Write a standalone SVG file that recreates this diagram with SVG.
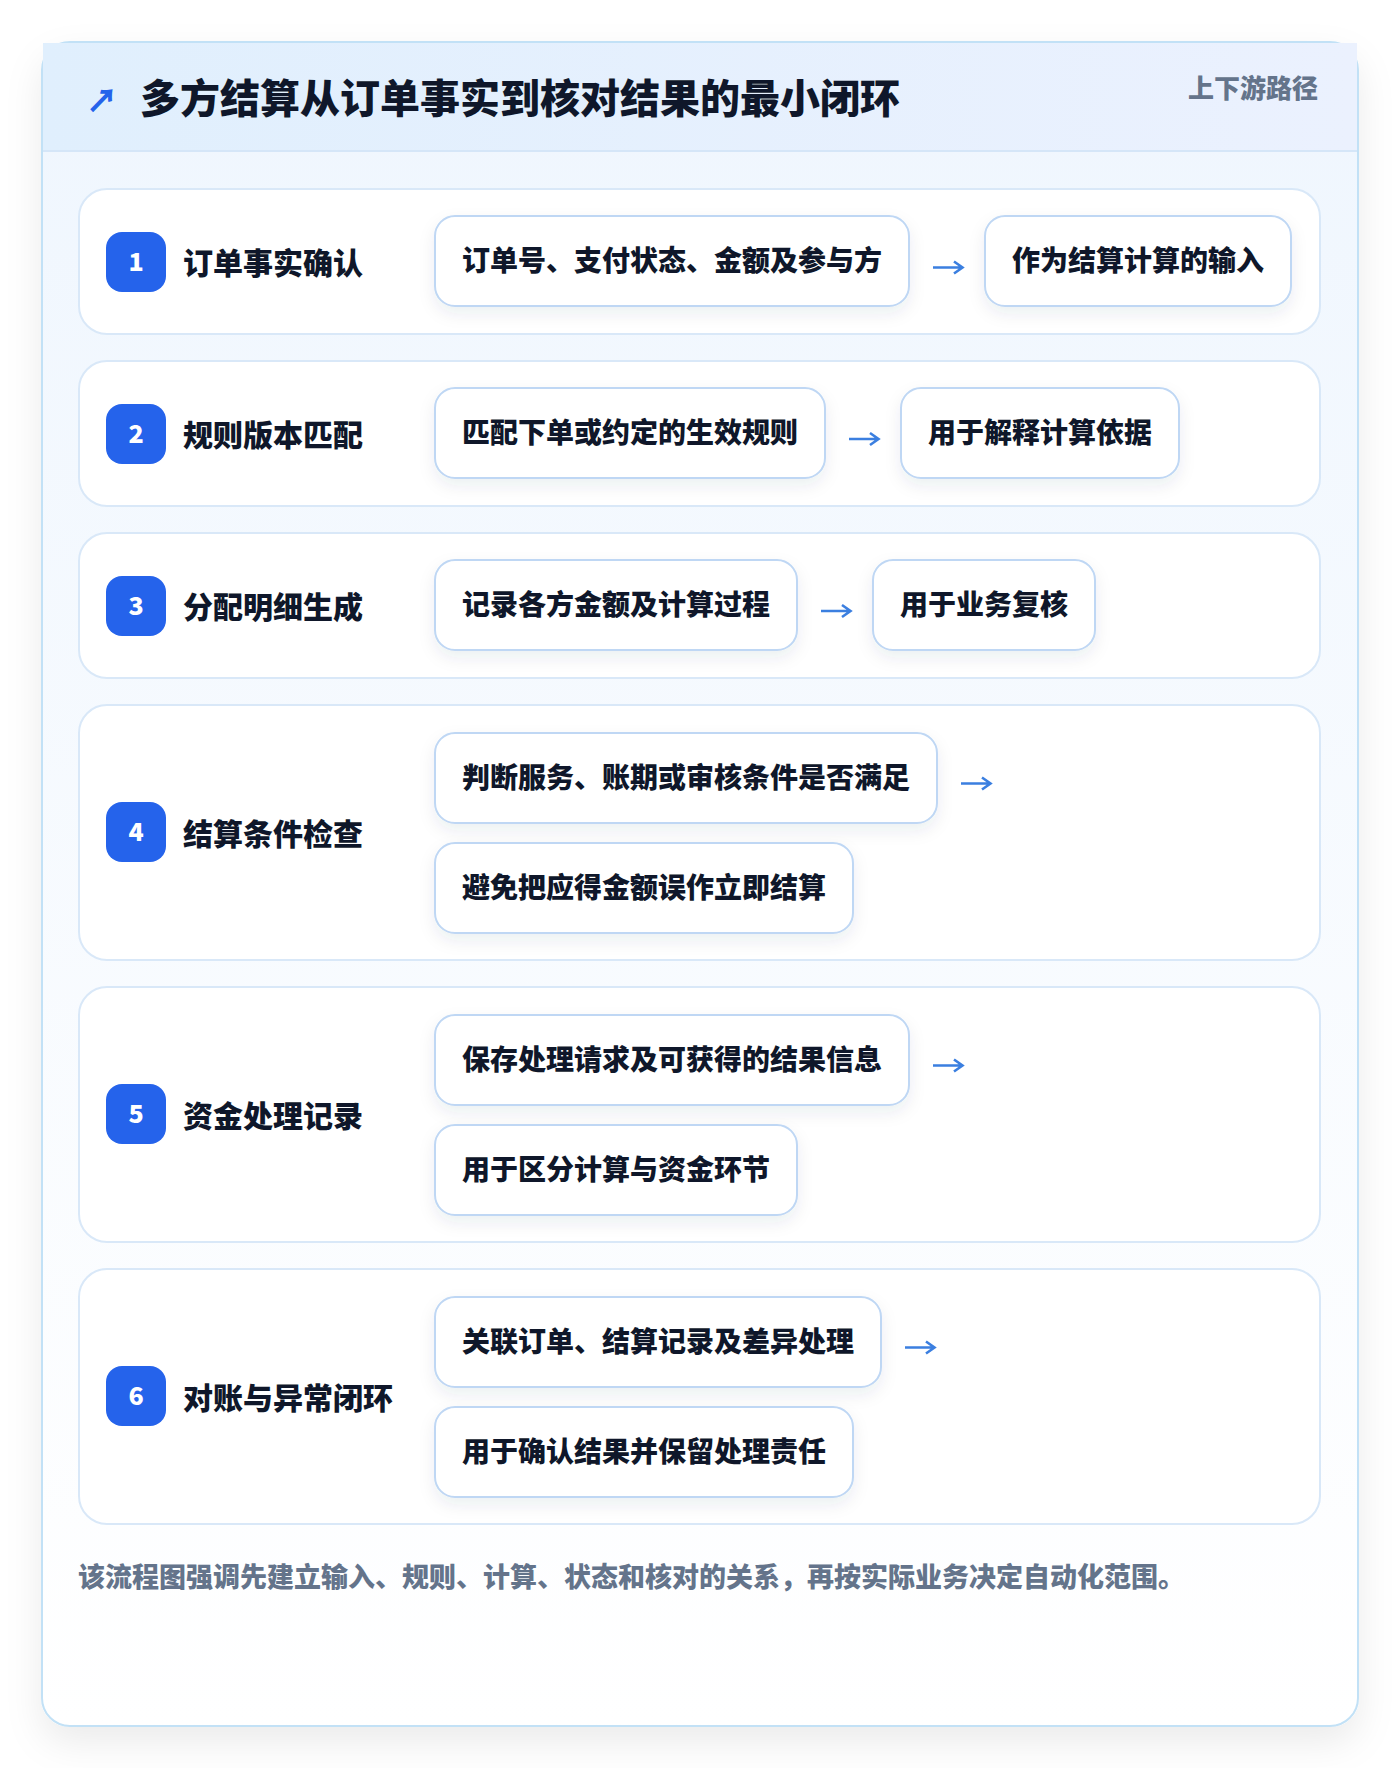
<svg xmlns="http://www.w3.org/2000/svg" width="1400" height="1768" viewBox="0 0 1400 1768">
<defs>
<linearGradient id="cardBg" x1="0" y1="0" x2="0" y2="1">
<stop offset="0" stop-color="#eff6fe"/>
<stop offset="1" stop-color="#ffffff"/>
</linearGradient>
<linearGradient id="headBg" x1="0" y1="0" x2="1" y2="0">
<stop offset="0" stop-color="#e0effd"/>
<stop offset="1" stop-color="#ebf1fe"/>
</linearGradient>
<filter id="cardShadow" x="-10%" y="-10%" width="120%" height="120%">
<feDropShadow dx="0" dy="16" stdDeviation="18" flood-color="#0f172a" flood-opacity="0.08"/>
</filter>
<filter id="pillShadow" x="-10%" y="-20%" width="120%" height="160%">
<feDropShadow dx="0" dy="7" stdDeviation="8" flood-color="#1e3a5f" flood-opacity="0.08"/>
</filter>
<style>
text{font-family:"Noto Sans CJK SC","Noto Sans",sans-serif;font-weight:800;}
.row{fill:#ffffff;stroke:#d9e8f8;stroke-width:2;}
.pill{fill:#ffffff;stroke:#bfd7f4;stroke-width:2;filter:url(#pillShadow);}
.badge{fill:#2563eb;}
.num{fill:#ffffff;font-size:25px;text-anchor:middle;}
.lbl{fill:#0f172a;font-size:30px;}
.ptxt{fill:#0f172a;font-size:28px;}
.arr{fill:none;stroke:#3b7fe0;stroke-width:2.6;stroke-linecap:butt;}
</style>
</defs>
<rect width="1400" height="1768" fill="#ffffff"/>
<g id="card">
<rect x="42" y="42" width="1316" height="1684" rx="28" fill="url(#cardBg)" stroke="#c2e1f6" stroke-width="2" filter="url(#cardShadow)"/>
<rect x="43" y="43" width="1314" height="108" fill="url(#headBg)"/>
<line x1="43" y1="151" x2="1357" y2="151" stroke="#d5e6f8" stroke-width="2"/>
<text x="86" y="112" font-size="32" fill="#2563eb">↗</text>
<text x="140" y="113" font-size="40" fill="#0f172a">多方结算从订单事实到核对结果的最小闭环</text>
<text x="1318" y="98" font-size="26" fill="#64748b" text-anchor="end">上下游路径</text>
</g>

<g id="step1">
<rect class="row" x="79" y="189" width="1241" height="145" rx="28"/>
<rect class="badge" x="106" y="232" width="60" height="60" rx="16"/>
<text class="num" x="136" y="271">1</text>
<text class="lbl" x="183" y="274">订单事实确认</text>
<rect class="pill" x="435" y="216" width="474" height="90" rx="20"/>
<text class="ptxt" x="462" y="271">订单号、支付状态、金额及参与方</text>
<rect class="pill" x="985" y="216" width="306" height="90" rx="20"/>
<text class="ptxt" x="1012" y="271">作为结算计算的输入</text>
</g>

<g id="step2">
<rect class="row" x="79" y="361" width="1241" height="145" rx="28"/>
<rect class="badge" x="106" y="404" width="60" height="60" rx="16"/>
<text class="num" x="136" y="443">2</text>
<text class="lbl" x="183" y="446">规则版本匹配</text>
<rect class="pill" x="435" y="388" width="390" height="90" rx="20"/>
<text class="ptxt" x="462" y="443">匹配下单或约定的生效规则</text>
<rect class="pill" x="901" y="388" width="278" height="90" rx="20"/>
<text class="ptxt" x="928" y="443">用于解释计算依据</text>
</g>

<g id="step3">
<rect class="row" x="79" y="533" width="1241" height="145" rx="28"/>
<rect class="badge" x="106" y="576" width="60" height="60" rx="16"/>
<text class="num" x="136" y="615">3</text>
<text class="lbl" x="183" y="618">分配明细生成</text>
<rect class="pill" x="435" y="560" width="362" height="90" rx="20"/>
<text class="ptxt" x="462" y="615">记录各方金额及计算过程</text>
<rect class="pill" x="873" y="560" width="222" height="90" rx="20"/>
<text class="ptxt" x="900" y="615">用于业务复核</text>
</g>

<g id="step4">
<rect class="row" x="79" y="705" width="1241" height="255" rx="28"/>
<rect class="badge" x="106" y="802" width="60" height="60" rx="16"/>
<text class="num" x="136" y="841">4</text>
<text class="lbl" x="183" y="845">结算条件检查</text>
<rect class="pill" x="435" y="733" width="502" height="90" rx="20"/>
<text class="ptxt" x="462" y="788">判断服务、账期或审核条件是否满足</text>
<rect class="pill" x="435" y="843" width="418" height="90" rx="20"/>
<text class="ptxt" x="462" y="898">避免把应得金额误作立即结算</text>
</g>

<g id="step5">
<rect class="row" x="79" y="987" width="1241" height="255" rx="28"/>
<rect class="badge" x="106" y="1084" width="60" height="60" rx="16"/>
<text class="num" x="136" y="1123">5</text>
<text class="lbl" x="183" y="1127">资金处理记录</text>
<rect class="pill" x="435" y="1015" width="474" height="90" rx="20"/>
<text class="ptxt" x="462" y="1070">保存处理请求及可获得的结果信息</text>
<rect class="pill" x="435" y="1125" width="362" height="90" rx="20"/>
<text class="ptxt" x="462" y="1180">用于区分计算与资金环节</text>
</g>

<g id="step6">
<rect class="row" x="79" y="1269" width="1241" height="255" rx="28"/>
<rect class="badge" x="106" y="1366" width="60" height="60" rx="16"/>
<text class="num" x="136" y="1405">6</text>
<text class="lbl" x="183" y="1409">对账与异常闭环</text>
<rect class="pill" x="435" y="1297" width="446" height="90" rx="20"/>
<text class="ptxt" x="462" y="1352">关联订单、结算记录及差异处理</text>
<rect class="pill" x="435" y="1407" width="418" height="90" rx="20"/>
<text class="ptxt" x="462" y="1462">用于确认结果并保留处理责任</text>
</g>

<g id="connectors">
<path class="arr" d="M933 267.5H962M954 261.5L962.5 267.5L954 273.5"/>
<path class="arr" d="M849 439H878M870 433L878.5 439L870 445"/>
<path class="arr" d="M821 611H850M842 605L850.5 611L842 617"/>
<path class="arr" d="M961 783.5H990M982 777.5L990.5 783.5L982 789.5"/>
<path class="arr" d="M933 1065.5H962M954 1059.5L962.5 1065.5L954 1071.5"/>
<path class="arr" d="M905 1347.5H934M926 1341.5L934.5 1347.5L926 1353.5"/>
</g>

<g id="footer">
<text x="78" y="1587" font-size="27" fill="#64748b">该流程图强调先建立输入、规则、计算、状态和核对的关系，再按实际业务决定自动化范围。</text>
</g>
</svg>
